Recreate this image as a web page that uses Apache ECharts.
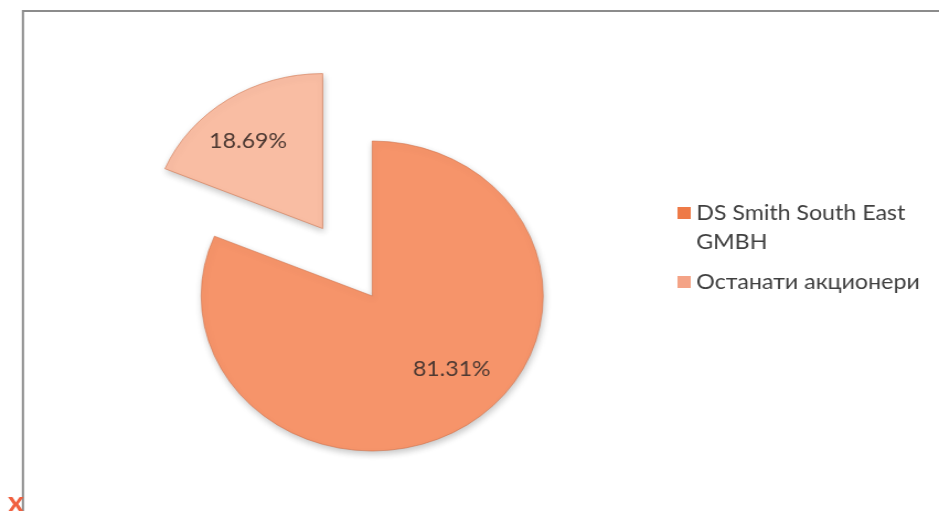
<!DOCTYPE html>
<html>
<head>
<meta charset="utf-8">
<script src="https://cdn.jsdelivr.net/npm/echarts@6/dist/echarts.min.js"></script>
<style>
html,body{margin:0;padding:0;background:#fff;overflow:hidden;width:939px;height:511px;}
#chart{width:851px;height:511px;transform:scaleX(1.1034);transform-origin:0 0;}
</style>
</head>
<body>
<div id="chart"></div>
<script>
const categories = ['DS Smith South East GMBH', 'Останати акционери'];
const shareValues = [81.31, 18.69];
const sliceColors = ['#F6946A', '#F9BDA3'];
const legendColors = ['#EE7A47', '#F4A386'];
const legendLabels = {'DS Smith South East GMBH': 'DS Smith South East\nGMBH'};

const chart = echarts.init(document.getElementById('chart'));
const labelOffsets = [[27.5, 6], [-23, -20]];

chart.setOption({
  animation: false,
  backgroundColor: '#ffffff',
  graphic: [
    {type: 'rect', shape: {x: 20.8, y: 11, width: 900, height: 600},
     style: {fill: 'none', stroke: '#8c8c8c', lineWidth: 2}},
    {type: 'text', left: 7, top: 489,
     style: {text: 'x', fill: '#F0603F', font: 'bold 28px Lato', textVerticalAlign: 'top'}}
  ],
  legend: {
    orient: 'vertical',
    left: 614,
    top: 198.5,
    padding: 0,
    itemWidth: 12,
    itemHeight: 41,
    itemGap: 11,
    symbolKeepAspect: true,
    selectedMode: false,
    formatter: n => legendLabels[n] || n,
    textStyle: {fontFamily: 'Lato', fontSize: 21, color: '#3f3f3f', lineHeight: 29},
    data: [
      {name: categories[0], icon: 'path://M0,0H12V12H0Z M0,41L0.01,41L0,41.01Z',
       itemStyle: {color: legendColors[0], borderWidth: 0}},
      {name: categories[1], icon: 'path://M0,0H12V12H0Z',
       itemStyle: {color: legendColors[1], borderWidth: 0}}
    ]
  },
  series: [{
    type: 'pie',
    center: [337.3, 296],
    radius: [0, 155],
    startAngle: 90,
    clockwise: true,
    selectedMode: 'single',
    selectedOffset: 81,
    label: {
      show: true,
      position: 'inside',
      formatter: p => p.value.toFixed(2) + '%',
      fontFamily: 'Lato',
      fontSize: 21,
      color: '#4e3a33'
    },
    labelLine: {show: false},
    emphasis: {disabled: true},
    itemStyle: {
      borderColor: 'rgba(205,110,70,0.55)',
      borderWidth: 1,
      shadowColor: 'rgba(0,0,0,0.22)',
      shadowBlur: 6,
      shadowOffsetX: 1,
      shadowOffsetY: 3
    },
    data: categories.map((name, i) => ({
      name: name,
      value: shareValues[i],
      selected: i === 1,
      itemStyle: {color: sliceColors[i]},
      label: {offset: labelOffsets[i]},
      select: {label: {offset: labelOffsets[i]}, itemStyle: {color: sliceColors[i]}}
    }))
  }]
});
</script>
</body>
</html>
